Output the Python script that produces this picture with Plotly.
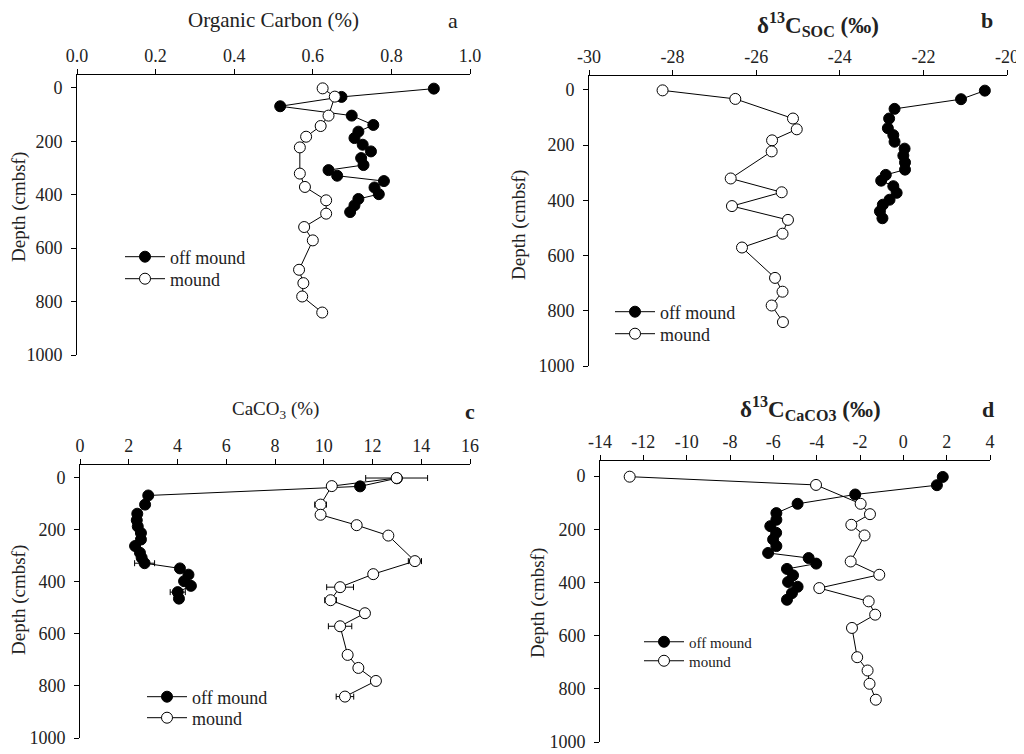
import plotly.graph_objects as go

# ---------------- data ----------------
depth_off = [3, 34, 69, 104, 139, 164, 188, 213, 238, 263, 289, 308, 329, 349, 373, 398, 416, 440, 465]
depth_mound = [2, 33, 104, 143, 183, 223, 321, 371, 421, 471, 521, 571, 681, 731, 781, 841]

oc_off = [0.908, 0.673, 0.517, 0.699, 0.754, 0.716, 0.706, 0.727, 0.748, 0.723, 0.729, 0.640, 0.662, 0.781, 0.757, 0.768, 0.716, 0.706, 0.695]
oc_mound = [0.625, 0.656, 0.640, 0.620, 0.583, 0.567, 0.567, 0.580, 0.634, 0.634, 0.578, 0.600, 0.565, 0.576, 0.573, 0.624]

d13soc_off = [-20.53, -21.10, -22.69, -22.82, -22.85, -22.72, -22.69, -22.45, -22.48, -22.44, -22.44, -22.90, -23.01, -22.72, -22.64, -22.81, -22.97, -23.04, -22.98]
d13soc_mound = [-28.24, -26.50, -25.12, -25.03, -25.62, -25.63, -26.61, -25.39, -26.58, -25.24, -25.37, -26.34, -25.55, -25.37, -25.63, -25.36]

caco3_off = [13.0, 11.49, 2.80, 2.67, 2.35, 2.33, 2.37, 2.50, 2.50, 2.26, 2.46, 2.53, 2.65, 4.10, 4.45, 4.27, 4.55, 4.01, 4.06]
caco3_off_err = [0, 0, 0, 0, 0, 0.1, 0, 0, 0, 0, 0, 0, 0.41, 0, 0, 0, 0.15, 0.31, 0]
caco3_mound = [12.99, 10.33, 9.87, 9.87, 11.35, 12.65, 13.74, 12.03, 10.67, 10.28, 11.69, 10.67, 10.98, 11.42, 12.14, 10.87]
caco3_mound_err = [1.27, 0, 0.24, 0, 0, 0.1, 0.27, 0.15, 0.55, 0.24, 0, 0.48, 0.15, 0, 0, 0.36]

d13ca_off = [1.82, 1.55, -2.22, -4.88, -5.86, -5.86, -6.14, -5.87, -6.01, -5.86, -6.24, -4.37, -4.02, -5.37, -5.09, -5.32, -4.88, -5.14, -5.37]
d13ca_mound = [-12.63, -4.03, -1.97, -1.54, -2.40, -1.79, -2.43, -1.11, -3.88, -1.60, -1.30, -2.37, -2.13, -1.65, -1.56, -1.27]

# tick labels
depth_ticks = [0, 200, 400, 600, 800, 1000]
depth_labels = ["0", "200", "400", "600", "800", "1000"]
oc_ticks = [0.0, 0.2, 0.4, 0.6, 0.8, 1.0]
oc_labels = ["0.0", "0.2", "0.4", "0.6", "0.8", "1.0"]
soc_ticks = [-30, -28, -26, -24, -22, -20]
soc_labels = ["-30", "-28", "-26", "-24", "-22", "-20"]
caco3_ticks = [0, 2, 4, 6, 8, 10, 12, 14, 16]
caco3_labels = ["0", "2", "4", "6", "8", "10", "12", "14", "16"]
ca_ticks = [-14, -12, -10, -8, -6, -4, -2, 0, 2, 4]
ca_labels = ["-14", "-12", "-10", "-8", "-6", "-4", "-2", "0", "2", "4"]

FONT = "Liberation Serif"
TXT = "#222"
OFF = 8                      # page body margin
W, H = 1024 - OFF, 754 - OFF  # figure size


def px(x):
    return (x - OFF) / W


def py(y):
    return 1 - (y - OFF) / H


fig = go.Figure()

# key, off, mound, off_err, mound_err, xdomain(px), ydomain(px), xrange, tickvals, ticktext, yrange,
# legend rows: (text_x, off_y, mound_y, font)
panels = [
    ("", oc_off, oc_mound, None, None, (77, 470), (75, 355), [0, 1], oc_ticks, oc_labels, [1000, -48],
     (170, 257, 279, 18)),
    ("2", d13soc_off, d13soc_mound, None, None, (589, 1007), (76, 366), [-30, -20], soc_ticks, soc_labels, [1000, -50],
     (660, 312, 334, 18)),
    ("3", caco3_off, caco3_mound, caco3_off_err, caco3_mound_err, (80, 470), (465, 738), [0, 16], caco3_ticks, caco3_labels, [1000, -48],
     (192, 697, 718, 18)),
    ("4", d13ca_off, d13ca_mound, None, None, (600, 990), (461, 742), [-14, 4], ca_ticks, ca_labels, [1000, -57],
     (689, 642, 661, 15)),
]

legends = {}
li = 0
for key, off, mound, off_err, mound_err, xd, yd, xr, tv, tt, yr, lg in panels:
    xa = "x" + key
    ya = "y" + key
    off_kw = {}
    mound_kw = {}
    if off_err is not None:
        off_kw["error_x"] = dict(type="data", array=off_err, symmetric=True, color="black", thickness=1, width=3)
        mound_kw["error_x"] = dict(type="data", array=mound_err, symmetric=True, color="black", thickness=1, width=3)
    text_x, off_y, mound_y, lfont = lg
    for name, xs, ys, fill, kw, rowy in [("off mound", off, depth_off, "black", off_kw, off_y),
                                         ("mound", mound, depth_mound, "white", mound_kw, mound_y)]:
        li += 1
        lname = "legend" if li == 1 else f"legend{li}"
        fig.add_trace(go.Scatter(
            x=xs, y=ys, mode="lines+markers", name=name,
            line=dict(color="black", width=1),
            marker=dict(symbol="circle", size=11, color=fill, line=dict(color="black", width=1)),
            xaxis=xa, yaxis=ya, legend=lname, **kw))
        legends[lname] = dict(x=px(text_x - 50), y=py(rowy), xanchor="left", yanchor="middle",
                              font=dict(family=FONT, size=lfont, color=TXT), bgcolor="rgba(0,0,0,0)",
                              itemwidth=40, borderwidth=0)

    axis_common = dict(showline=True, linecolor="black", linewidth=1, ticks="outside",
                       tickcolor="black", ticklen=5, tickwidth=1, showgrid=False, zeroline=False,
                       automargin=False, tickfont=dict(family=FONT, size=18, color=TXT))
    fig.layout["xaxis" + key] = dict(domain=[px(xd[0]), px(xd[1])], anchor=ya, side="top",
                                     range=xr, tickvals=tv, ticktext=tt, **axis_common)
    fig.layout["yaxis" + key] = dict(domain=[py(yd[1]), py(yd[0])], anchor=xa, range=yr,
                                     tickvals=depth_ticks, ticktext=depth_labels,
                                     ticklabelstandoff=5, **axis_common)

fig.update_layout(**legends)

ann = []


def text(x, y, s, size, bold=False, angle=0):
    ann.append(dict(x=px(x), y=py(y), xref="paper", yref="paper", text=(f"<b>{s}</b>" if bold else s),
                    showarrow=False, xanchor="center", yanchor="middle", textangle=angle,
                    font=dict(family=FONT, size=size, color=TXT)))


text(273, 20, "Organic Carbon (%)", 21)
text(453, 20, "a", 22)
text(818, 24, "δ<sup>13</sup>C<sub>SOC</sub> (‰)", 23, bold=True)
text(987, 20, "b", 22, bold=True)
text(275, 410, "CaCO<sub>3</sub> (%)", 19)
text(470, 411, "c", 22, bold=True)
text(810, 408, "δ<sup>13</sup>C<sub>CaCO3</sub> (‰)", 23, bold=True)
text(988, 409, "d", 22, bold=True)
text(19, 207, "Depth (cmbsf)", 19, angle=-90)
text(519, 225, "Depth (cmbsf)", 19, angle=-90)
text(19, 600, "Depth (cmbsf)", 19, angle=-90)
text(538, 603, "Depth (cmbsf)", 19, angle=-90)

fig.update_layout(
    template="none",
    width=W, height=H, margin=dict(l=0, r=0, t=0, b=0, autoexpand=False),
    paper_bgcolor="white", plot_bgcolor="rgba(0,0,0,0)",
    font=dict(family=FONT, color=TXT),
    annotations=ann, showlegend=True,
)

fig.write_html("out.html")
